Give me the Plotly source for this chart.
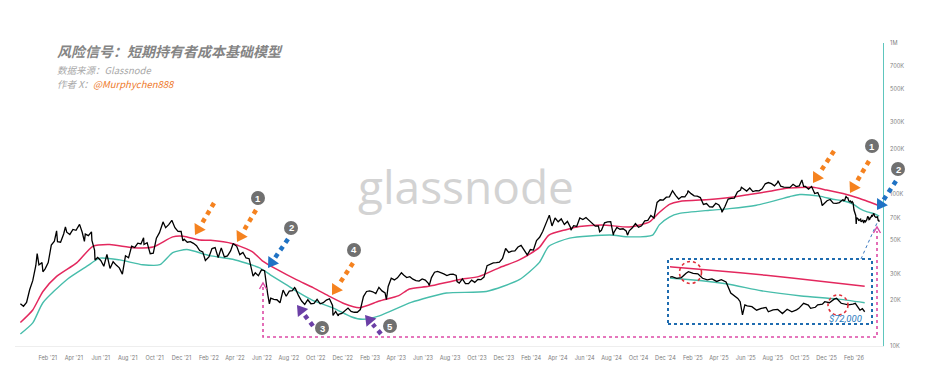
import math
import pandas as pd
import plotly.graph_objects as go

# ------------------------------------------------------------------ data
# BTC price (thousands of USD), weekly readings starting 2020-12-01
price_week_start = "2020-12-01"
price_weekly_k = [
    19.0, 18.3, 19.4, 23.5, 27.0,
    34.0, 34.3, 35.5, 32.3,
    35.5, 46.4, 49.2, 48.8,
    48.4, 54.9, 56.4, 54.5, 58.8,
    58.0, 63.2, 56.3, 54.8,
    53.5, 56.7, 42.9, 38.4,
    36.7, 33.6, 40.2, 32.5, 36.0,
    34.2, 32.8, 29.8, 39.4,
    38.2, 45.6, 44.7, 47.7, 47.2,
    46.8, 48.1, 40.7, 41.0,
    51.5, 56.0, 64.3, 60.4,
    63.2, 67.5, 60.4, 57.1, 57.0,
    50.6, 48.4, 48.9, 47.6,
    45.9, 42.7, 41.8, 36.9,
    38.7, 44.0, 44.6, 38.3,
    44.4, 38.7, 39.3, 42.4, 47.1,
    45.5, 40.1, 41.5, 38.1,
    37.7, 31.0, 30.4, 29.1, 31.8,
    31.4, 22.1, 20.7, 20.3,
    20.2, 19.3, 23.4, 21.3,
    23.0, 23.2, 23.9, 21.5, 19.8,
    18.8, 20.2, 19.0, 19.1,
    20.3, 19.0, 19.3, 20.1,
    20.5, 18.5, 16.9, 16.2, 16.4,
    17.0, 17.8, 16.9, 16.7,
    16.7, 17.4, 21.2, 22.9, 23.1,
    22.8, 22.2, 24.4, 23.1,
    22.4, 24.7, 28.0, 27.3,
    28.2, 30.2, 29.4, 28.3,
    28.7, 27.6, 27.0, 26.8, 27.7,
    27.2, 25.9, 28.3, 30.7,
    31.1, 30.6, 29.9, 29.2,
    29.7, 29.8, 29.2, 26.0, 27.7,
    25.8, 25.8, 27.2, 26.3,
    27.5, 27.4, 28.5, 33.9, 34.6,
    35.4, 35.5, 35.8, 37.8,
    44.0, 41.5, 42.3, 42.5,
    45.0, 46.1, 43.1, 39.9, 43.3,
    43.0, 49.7, 52.2, 57.0,
    63.8, 72.2, 62.0, 70.0,
    66.0, 69.0, 63.4, 66.4, 60.6,
    62.3, 61.6, 70.0, 68.3,
    70.5, 67.3, 65.1, 61.8,
    62.1, 58.0, 65.0, 65.9, 66.2,
    56.0, 60.6, 59.0, 59.4,
    57.5, 57.6, 60.3, 64.3,
    60.8, 62.1, 67.0, 67.4, 72.7,
    70.0, 88.7, 92.3, 91.9,
    96.0, 96.6, 106.0, 98.7, 93.4,
    96.9, 96.5, 106.0, 101.3,
    98.0, 97.4, 95.5, 86.0,
    87.2, 82.9, 82.7, 87.5,
    85.2, 76.3, 83.6, 93.4, 94.3,
    94.7, 104.0, 106.8, 108.9,
    105.4, 110.3, 104.5, 106.0,
    105.7, 108.9, 117.7, 119.9, 117.9,
    114.1, 120.2, 113.5, 111.8,
    111.2, 111.5, 116.8, 112.9, 114.0,
    121.5, 113.0, 108.5, 113.0,
    101.5, 103.0, 92.9, 87.3,
    91.0, 92.7, 87.8, 87.5, 88.5,
]

# intra-week highs / lows
price_extra_dates = [
    "2021-01-08", "2021-01-21", "2021-02-21", "2021-03-13", "2021-04-14",
    "2021-04-25", "2021-05-12", "2021-05-19", "2021-09-06", "2021-10-20",
    "2021-12-04", "2022-01-24", "2022-03-28", "2022-05-12", "2022-06-18",
    "2022-08-14", "2022-11-09", "2022-11-21", "2023-03-10", "2023-04-13",
    "2023-06-15", "2023-08-17", "2024-03-13", "2024-05-01", "2024-07-05",
    "2024-08-05", "2024-09-06", "2025-01-20", "2025-04-07", "2025-05-22",
    "2025-08-13", "2025-10-06", "2025-10-10", "2025-11-21",
]
price_extra_k = [
    40.8, 30.9, 57.5, 61.2, 63.5,
    49.0, 49.7, 37.0, 51.8, 66.0,
    49.4, 36.7, 47.5, 28.9, 19.0,
    24.3, 15.9, 15.8, 20.2, 30.4,
    25.1, 26.6, 73.1, 58.2, 56.7,
    54.0, 53.9, 102.3, 79.2, 111.7,
    123.3, 124.7, 113.2, 84.6,
]

price_2026_dates = [
    "2026-01-03", "2026-01-07", "2026-01-09", "2026-01-11", "2026-01-13",
    "2026-01-14", "2026-01-16", "2026-01-18", "2026-01-20", "2026-01-22",
    "2026-01-24", "2026-01-26", "2026-01-28", "2026-01-29", "2026-01-30",
    "2026-02-01", "2026-02-02", "2026-02-03", "2026-02-04", "2026-02-05",
    "2026-02-06", "2026-02-07", "2026-02-08", "2026-02-10", "2026-02-12",
    "2026-02-14", "2026-02-16", "2026-02-17", "2026-02-19", "2026-02-21",
    "2026-02-23", "2026-02-25", "2026-02-27", "2026-03-01", "2026-03-02",
    "2026-03-04", "2026-03-06", "2026-03-07", "2026-03-09", "2026-03-10",
    "2026-03-12", "2026-03-13", "2026-03-15", "2026-03-17", "2026-03-18",
    "2026-03-20", "2026-03-22", "2026-03-23", "2026-03-25", "2026-03-26",
    "2026-03-28", "2026-03-29", "2026-03-30",
]
price_2026_k = [
    90.6, 92.4, 90.9, 91.6, 95.5,
    96.9, 95.4, 95.0, 91.0, 89.6,
    90.5, 88.3, 89.8, 89.0, 87.8,
    79.0, 77.8, 76.5, 75.0, 72.7,
    64.0, 70.5, 69.8, 69.3, 67.0,
    68.2, 68.8, 66.0, 67.2, 67.5,
    64.9, 67.6, 66.0, 67.2, 68.2,
    71.6, 70.4, 68.2, 68.9, 70.5,
    71.0, 72.7, 72.0, 74.5, 75.1,
    71.6, 70.9, 70.5, 71.0, 71.6,
    67.0, 68.0, 66.0,
]

# Short-term holder cost basis (red)
sth_dates = [
    "2020-12-01", "2020-12-29", "2021-01-21", "2021-02-21", "2021-04-08",
    "2021-05-14", "2021-06-21", "2021-08-13", "2021-09-27", "2021-11-11",
    "2021-12-05", "2022-01-11", "2022-02-05", "2022-03-27", "2022-05-10",
    "2022-06-02", "2022-07-05", "2022-08-18", "2022-09-25", "2022-11-02",
    "2022-12-05", "2023-01-08", "2023-02-22", "2023-04-07", "2023-05-01",
    "2023-06-14", "2023-08-21", "2023-10-06", "2023-11-20", "2024-01-05",
    "2024-02-19", "2024-03-12", "2024-04-20", "2024-05-20", "2024-07-11",
    "2024-09-10", "2024-10-26", "2024-11-17", "2024-12-10", "2025-01-02",
    "2025-03-11", "2025-04-25", "2025-06-09", "2025-07-25", "2025-09-01",
    "2025-10-31", "2025-12-01", "2026-01-07", "2026-02-05", "2026-02-27",
    "2026-03-30",
]
sth_cost_basis_k = [
    14.3, 17.3, 22.9, 28.8, 35.5,
    45.5, 46.8, 44.6, 45.0, 52.5,
    53.0, 50.0, 49.8, 47.3, 42.0,
    36.5, 32.0, 27.4, 24.3, 21.2,
    19.0, 17.9, 19.8, 21.5, 23.8,
    24.8, 27.4, 28.8, 32.8, 37.0,
    44.6, 54.0, 58.6, 61.5, 63.0,
    61.0, 66.0, 76.0, 86.0, 90.0,
    92.7, 95.5, 100.0, 105.0, 110.0,
    111.5, 107.0, 101.4, 96.0, 91.2,
    84.3,
]

# Lower band of the STH cost basis model (teal)
band_dates = [
    "2020-12-01", "2020-12-29", "2021-01-21", "2021-03-16", "2021-04-30",
    "2021-05-30", "2021-07-14", "2021-09-04", "2021-10-13", "2021-11-11",
    "2021-12-13", "2022-02-02", "2022-03-27", "2022-05-27", "2022-06-20",
    "2022-07-25", "2022-08-18", "2022-09-24", "2022-11-10", "2022-12-20",
    "2023-01-15", "2023-02-22", "2023-05-05", "2023-07-24", "2023-10-22",
    "2024-01-05", "2024-02-19", "2024-03-12", "2024-04-28", "2024-07-28",
    "2024-09-10", "2024-11-02", "2024-11-17", "2024-12-10", "2025-01-02",
    "2025-03-11", "2025-04-25", "2025-06-25", "2025-09-08", "2025-10-01",
    "2025-11-15", "2025-12-15", "2026-01-07", "2026-01-30", "2026-02-14",
    "2026-03-03", "2026-03-18", "2026-03-30",
]
sth_lower_band_k = [
    12.0, 14.2, 19.3, 27.4, 33.5,
    38.0, 37.0, 34.4, 34.4, 41.3,
    43.3, 39.5, 37.4, 32.8, 29.5,
    25.5, 23.0, 20.0, 17.8, 15.6,
    15.0, 15.8, 19.4, 22.4, 22.9,
    27.4, 35.5, 45.5, 51.5, 54.0,
    52.5, 54.0, 63.0, 71.0, 75.0,
    78.7, 80.7, 85.0, 96.7, 100.0,
    97.5, 93.0, 91.0, 86.3, 80.7,
    76.8, 74.7, 72.0,
]

x_tick_vals = [
    "2021-02-01", "2021-04-01", "2021-06-01", "2021-08-01", "2021-10-01", "2021-12-01",
    "2022-02-01", "2022-04-01", "2022-06-01", "2022-08-01", "2022-10-01", "2022-12-01",
    "2023-02-01", "2023-04-01", "2023-06-01", "2023-08-01", "2023-10-01", "2023-12-01",
    "2024-02-01", "2024-04-01", "2024-06-01", "2024-08-01", "2024-10-01", "2024-12-01",
    "2025-02-01", "2025-04-01", "2025-06-01", "2025-08-01", "2025-10-01", "2025-12-01",
    "2026-02-01",
]
x_tick_labels = [
    "Feb '21", "Apr '21", "Jun '21", "Aug '21", "Oct '21", "Dec '21",
    "Feb '22", "Apr '22", "Jun '22", "Aug '22", "Oct '22", "Dec '22",
    "Feb '23", "Apr '23", "Jun '23", "Aug '23", "Oct '23", "Dec '23",
    "Feb '24", "Apr '24", "Jun '24", "Aug '24", "Oct '24", "Dec '24",
    "Feb '25", "Apr '25", "Jun '25", "Aug '25", "Oct '25", "Dec '25",
    "Feb '26",
]
y_tick_vals = [10000, 20000, 30000, 50000, 70000, 100000, 200000, 300000, 500000, 700000, 1000000]
y_tick_labels = ["10K", "20K", "30K", "50K", "70K", "100K", "200K", "300K", "500K", "700K", "1M"]

# ------------------------------------------------------------------ frames
weekly = pd.DataFrame({
    "date": pd.date_range(price_week_start, periods=len(price_weekly_k), freq="7D"),
    "price": price_weekly_k,
})
extra = pd.DataFrame({"date": pd.to_datetime(price_extra_dates), "price": price_extra_k})
recent = pd.DataFrame({"date": pd.to_datetime(price_2026_dates), "price": price_2026_k})
price = (pd.concat([weekly, extra, recent])
         .drop_duplicates("date").sort_values("date").reset_index(drop=True))
price["price"] = price["price"] * 1000

sth = pd.DataFrame({"date": pd.to_datetime(sth_dates), "v": [v * 1000 for v in sth_cost_basis_k]})
band = pd.DataFrame({"date": pd.to_datetime(band_dates), "v": [v * 1000 for v in sth_lower_band_k]})

RED = "#e3285e"
TEAL = "#47bdab"
ORANGE = "#f5821f"
BLUE = "#1f72c4"
PURPLE = "#6b3fa6"
PINK = "#dd4aa6"

fig = go.Figure()
for xa, ya in (("x", "y"), ("x2", "y2")):
    fig.add_trace(go.Scatter(x=band["date"], y=band["v"], mode="lines",
                             line=dict(color=TEAL, width=1.4, shape="spline", smoothing=0.6),
                             xaxis=xa, yaxis=ya, hoverinfo="skip"))
    fig.add_trace(go.Scatter(x=sth["date"], y=sth["v"], mode="lines",
                             line=dict(color=RED, width=1.5, shape="spline", smoothing=0.6),
                             xaxis=xa, yaxis=ya, hoverinfo="skip"))
    fig.add_trace(go.Scatter(x=price["date"], y=price["price"], mode="lines",
                             line=dict(color="#000000", width=1.3),
                             xaxis=xa, yaxis=ya, hoverinfo="skip"))

# ------------------------------------------------------------------ page geometry
# the page body adds an 8px margin, so the figure is placed 8px right / down
OFF = 8
W, H = 938 - 2 * OFF, 379 - 2 * OFF
# plot area in page pixels
L, R, T, B = 15, 883, 43, 346


def P(x, y):
    """page pixel -> paper fraction"""
    return (x - L) / (R - L), (B - y) / (B - T)


shapes = []
annotations = []


def arrow(tip, tail, color, head_len=10, head_w=6.5):
    tx, ty = tip
    sx, sy = tail
    dx, dy = tx - sx, ty - sy
    n = math.hypot(dx, dy)
    ux, uy = dx / n, dy / n
    bx, by = tx - ux * head_len, ty - uy * head_len
    nx, ny = -uy, ux
    pts = [(tx, ty), (bx + nx * head_w, by + ny * head_w), (bx - nx * head_w, by - ny * head_w)]
    pp = [P(*p) for p in pts]
    path = "M {} {} L {} {} L {} {} Z".format(pp[0][0], pp[0][1], pp[1][0], pp[1][1], pp[2][0], pp[2][1])
    shapes.append(dict(type="path", xref="paper", yref="paper", path=path,
                       fillcolor=color, line=dict(width=0)))
    a = P(sx, sy)
    b = P(bx - ux * 2, by - uy * 2)
    shapes.append(dict(type="line", xref="paper", yref="paper", x0=a[0], y0=a[1], x1=b[0], y1=b[1],
                       line=dict(color=color, width=4.5, dash="dot")))


def badge(cx, cy, label, r=7):
    x, y = P(cx, cy)
    shapes.append(dict(type="circle", xref="paper", yref="paper",
                       xsizemode="pixel", ysizemode="pixel", xanchor=x, yanchor=y,
                       x0=-r, x1=r, y0=-r, y1=r, fillcolor="#707070", line=dict(width=0)))
    annotations.append(dict(xref="paper", yref="paper", x=x, y=y, text="<b>%s</b>" % label,
                            showarrow=False, xanchor="center", yanchor="middle",
                            font=dict(family="Liberation Sans", size=9.5, color="white")))


def ring(cx, cy, r):
    x, y = P(cx, cy)
    shapes.append(dict(type="circle", xref="paper", yref="paper",
                       xsizemode="pixel", ysizemode="pixel", xanchor=x, yanchor=y,
                       x0=-r, x1=r, y0=-r, y1=r,
                       line=dict(color="#e0303a", width=1.6, dash="dot")))


def poly(points, color, width, dash="solid"):
    pp = [P(*p) for p in points]
    path = "M " + " L ".join("{} {}".format(a, b) for a, b in pp)
    shapes.append(dict(type="path", xref="paper", yref="paper", path=path,
                       line=dict(color=color, width=width, dash=dash)))


# arrows
arrow((195, 235), (214, 203), ORANGE)
arrow((237, 242), (256, 210), ORANGE)
arrow((268, 268), (288, 239), BLUE)
arrow((332, 295), (353, 263), ORANGE)
arrow((297, 305), (313, 326), PURPLE)
arrow((365, 315), (381, 334), PURPLE)
arrow((813, 183), (834, 151), ORANGE)
arrow((850, 193), (869, 161), ORANGE)
arrow((877, 210), (896, 181), BLUE)

badge(258, 198, "1")
badge(291, 228, "2")
badge(354, 250, "4")
badge(322, 328, "3")
badge(390, 326, "5")
badge(872, 146, "1")
badge(898, 169, "2")

# pink dotted connector from the 2022 breakdown to today
poly([(263, 287), (263, 337), (877, 337), (877, 231)], PINK, 1.6, "dot")
poly([(259.5, 289), (263, 283), (266.5, 289)], PINK, 1.4)
poly([(873.5, 233), (877, 227), (880.5, 233)], PINK, 1.4)

# inset box + link
x0, y0 = P(668, 324)
x1, y1 = P(872, 259)
shapes.append(dict(type="rect", xref="paper", yref="paper", x0=x0, y0=y0, x1=x1, y1=y1,
                   line=dict(color="#1f6cb0", width=2, dash="dot")))
poly([(861, 259), (877, 223)], "#3a78c0", 1, "dot")
ring(690.5, 272.5, 11)
ring(838, 305, 10)

# texts
tx, ty = P(55, 51)
annotations.append(dict(xref="paper", yref="paper", x=tx, y=ty, xanchor="left", yanchor="middle",
                        showarrow=False, text="风险信号：短期持有者成本基础模型",
                        font=dict(family="Noto Sans CJK SC", size=14, color="#858585",
                                  weight="bold", style="italic")))
tx, ty = P(55, 70)
annotations.append(dict(xref="paper", yref="paper", x=tx, y=ty, xanchor="left", yanchor="middle",
                        showarrow=False, text="数据来源：Glassnode",
                        font=dict(family="Noto Sans CJK SC", size=9.5, color="#a8a8a8", style="italic")))
tx, ty = P(55, 84)
annotations.append(dict(xref="paper", yref="paper", x=tx, y=ty, xanchor="left", yanchor="middle",
                        showarrow=False,
                        text="作者 X：<span style='color:#ee7a2c'>@Murphychen888</span>",
                        font=dict(family="Noto Sans CJK SC", size=9.5, color="#a8a8a8", style="italic")))
tx, ty = P(466, 186)
annotations.append(dict(xref="paper", yref="paper", x=tx, y=ty, xanchor="center", yanchor="middle",
                        showarrow=False, text="glassnode",
                        font=dict(family="Open Sans", size=46, color="#d3d3d3", weight=400)))
tx, ty = P(845, 318)
annotations.append(dict(xref="paper", yref="paper", x=tx, y=ty, xanchor="center", yanchor="middle",
                        showarrow=False, text="$72,000",
                        font=dict(family="Roboto", size=9.5, color="#2a7cc0", style="italic")))

ix0, iy0 = P(670, 322)
ix1, iy1 = P(870, 260)

fig.update_layout(
    width=W, height=H,
    margin=dict(l=L - OFF, r=W - (R - OFF), t=T - OFF, b=H - (B - OFF), pad=0, autoexpand=False),
    paper_bgcolor="white", plot_bgcolor="white",
    showlegend=False,
    xaxis=dict(type="date", range=["2020-11-18 19:00", "2026-04-07 17:00"],
               tickvals=x_tick_vals, ticktext=x_tick_labels, tickangle=0, automargin=False,
               showgrid=False, zeroline=False,
               showline=True, linecolor="#eeeeee", linewidth=1, ticks="",
               ticklabelstandoff=6,
               tickfont=dict(family="Inter", size=5.6, color="#7d7d7d")),
    yaxis=dict(type="log", range=[4, 6], side="right", tickvals=y_tick_vals, ticktext=y_tick_labels,
               automargin=False,
               showgrid=False, zeroline=False, showline=True, linecolor="#5ec6be", linewidth=1,
               ticks="", ticklabelstandoff=5,
               tickfont=dict(family="Inter", size=5.6, color="#7d7d7d")),
    xaxis2=dict(type="date", domain=[ix0, ix1], range=["2026-01-06 03:34", "2026-04-01 06:13"],
                anchor="y2", visible=False),
    yaxis2=dict(type="log", domain=[iy0, iy1], range=[4.7769, 5.0352], anchor="x2", visible=False),
    shapes=shapes,
    annotations=annotations,
)

fig.write_html("out.html")
